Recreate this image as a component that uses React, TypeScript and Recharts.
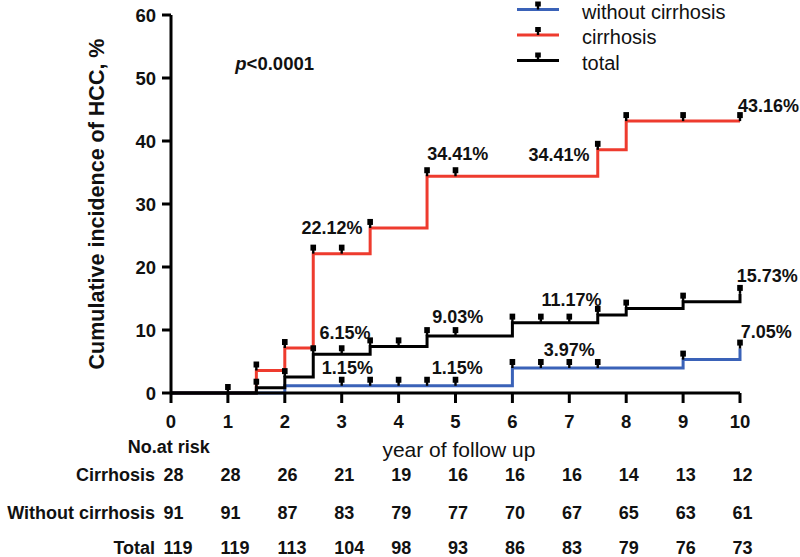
import React from 'react';
import { ComposedChart, Line, Scatter, XAxis, YAxis, ReferenceDot } from 'recharts';

const FONT = '"Liberation Sans", Arial, Helvetica, sans-serif';

// axis ticks
const years = [0, 1, 2, 3, 4, 5, 6, 7, 8, 9, 10];
const yTicks = [0, 10, 20, 30, 40, 50, 60];

// step series (time of step, cumulative incidence %)
const cirrhosisT = [0, 1.5, 2, 2.5, 3.5, 4.5, 7.5, 8, 10];
const cirrhosisV = [0, 3.57, 7.14, 22.12, 26.2, 34.41, 38.6, 43.16, 43.16];
const withoutT = [0, 2, 6, 9, 10];
const withoutV = [0, 1.15, 3.97, 5.3, 7.05];
const totalT = [0, 1.5, 2, 2.5, 3.5, 4.5, 6, 7.5, 8, 9, 10];
const totalV = [0, 0.84, 2.52, 6.15, 7.4, 9.03, 11.17, 12.4, 13.4, 14.5, 15.73];

// censor times
const cirrhosisCensor = [1.5, 2, 2.5, 3, 3.5, 4.5, 5, 7.5, 8, 9, 10];
const withoutCensor = [3, 3.5, 4, 4.5, 5, 6, 6.5, 7, 7.5, 9, 10];
const totalCensor = [1, 1.5, 2, 2.5, 3, 3.5, 4, 4.5, 5, 6, 6.5, 7, 7.5, 8, 9, 10];

// value labels
const labelText = ['22.12%', '6.15%', '1.15%', '34.41%', '34.41%', '43.16%', '9.03%', '11.17%', '15.73%', '3.97%', '7.05%', '1.15%'];
const labelX = [2.83, 3.06, 3.1, 5.04, 6.82, 10.5, 5.04, 7.04, 10.48, 7.0, 10.46, 5.03];
const labelY = [26.2, 9.5, 4.0, 37.9, 37.8, 45.6, 12.1, 14.8, 18.6, 6.8, 9.7, 4.0];

// number at risk
const riskRows = ['Cirrhosis', 'Without cirrhosis', 'Total'];
const riskCirrhosis = [28, 28, 26, 21, 19, 16, 16, 16, 14, 13, 12];
const riskWithout = [91, 91, 87, 83, 79, 77, 70, 67, 65, 63, 61];
const riskTotal = [119, 119, 113, 104, 98, 93, 86, 83, 79, 76, 73];
const riskRowY = [-13.0, -19.05, -24.65];

const RED = '#ee3b2e';
const BLUE = '#3a62b8';
const BLACK = '#000000';

const legendItems = [
  { name: 'without cirrhosis', color: BLUE },
  { name: 'cirrhosis', color: RED },
  { name: 'total', color: BLACK },
];

const toSeries = (t: number[], v: number[]) => t.map((x, i) => ({ x, y: v[i] }));
const stepAt = (t: number[], v: number[], at: number) => {
  let idx = 0;
  for (let i = 0; i < t.length; i++) if (t[i] <= at) idx = i;
  return v[idx];
};
const toCensor = (c: number[], t: number[], v: number[]) => c.map((x) => ({ x, y: stepAt(t, v, x) }));

const CensorMark = (props: any) => {
  const { cx, cy } = props;
  if (cx == null || cy == null) return null;
  return (
    <g>
      <rect x={cx - 1.2} y={cy - 4} width={2.4} height={4} fill="#000" />
      <rect x={cx - 2.8} y={cy - 9} width={5.6} height={6} fill="#000" />
    </g>
  );
};

const makeText = (text: string, opts: { anchor?: string; size?: number; weight?: string | number }) => (props: any) => {
  const { cx, cy } = props;
  return (
    <text
      x={cx}
      y={cy}
      textAnchor={opts.anchor || 'middle'}
      dominantBaseline="central"
      fontFamily={FONT}
      fontSize={opts.size || 18}
      fontWeight={opts.weight ?? 'bold'}
      fill="#111"
    >
      {text}
    </text>
  );
};

const PValue = (props: any) => {
  const { cx, cy } = props;
  return (
    <text x={cx} y={cy} textAnchor="start" dominantBaseline="central" fontFamily={FONT} fontSize={18.5} fontWeight="bold" fill="#111">
      <tspan fontStyle="italic">p</tspan>
      <tspan>{'<0.0001'}</tspan>
    </text>
  );
};

export default function App() {
  const riskData = [riskCirrhosis, riskWithout, riskTotal];
  return (
    <div style={{ position: 'absolute', left: 0, top: 0, width: 800, height: 557, background: '#fff' }}>
      <ComposedChart
        width={800}
        height={557}
        margin={{ top: 15, right: 60, bottom: 134, left: 111 }}
        style={{ fontFamily: FONT }}
      >
        <XAxis
          dataKey="x"
          type="number"
          domain={[0, 10]}
          ticks={years}
          interval={0}
          height={30}
          tickSize={10}
          tickMargin={12}
          axisLine={{ stroke: '#000', strokeWidth: 3 }}
          tickLine={{ stroke: '#000', strokeWidth: 3 }}
          tick={{ fontSize: 18.5, fontWeight: 'bold', fill: '#111', fontFamily: FONT }}
        />
        <YAxis
          dataKey="y"
          type="number"
          domain={[0, 60]}
          ticks={yTicks}
          interval={0}
          width={60}
          tickSize={9}
          tickMargin={6}
          axisLine={{ stroke: '#000', strokeWidth: 3 }}
          tickLine={{ stroke: '#000', strokeWidth: 3 }}
          tick={{ fontSize: 18.5, fontWeight: 'bold', fill: '#111', fontFamily: FONT }}
          label={{
            value: 'Cumulative incidence of HCC, %',
            angle: -90,
            position: 'left',
            offset: 15,
            style: { fontSize: 21.5, fontWeight: 'bold', fill: '#111', fontFamily: FONT, textAnchor: 'middle' },
          }}
        />
        <Line data={toSeries(cirrhosisT, cirrhosisV)} dataKey="y" type="stepAfter" stroke={RED} strokeWidth={3} dot={false} isAnimationActive={false} />
        <Line data={toSeries(withoutT, withoutV)} dataKey="y" type="stepAfter" stroke={BLUE} strokeWidth={3} dot={false} isAnimationActive={false} />
        <Line data={toSeries(totalT, totalV)} dataKey="y" type="stepAfter" stroke={BLACK} strokeWidth={3} dot={false} isAnimationActive={false} />
        <Scatter data={toCensor(cirrhosisCensor, cirrhosisT, cirrhosisV)} dataKey="y" shape={<CensorMark />} isAnimationActive={false} />
        <Scatter data={toCensor(withoutCensor, withoutT, withoutV)} dataKey="y" shape={<CensorMark />} isAnimationActive={false} />
        <Scatter data={toCensor(totalCensor, totalT, totalV)} dataKey="y" shape={<CensorMark />} isAnimationActive={false} />

        {labelText.map((t, i) => (
          <ReferenceDot key={'lab' + i} x={labelX[i]} y={labelY[i]} r={0} ifOverflow="visible" shape={makeText(t, { size: 18 })} />
        ))}
        <ReferenceDot x={1.13} y={52.4} r={0} ifOverflow="visible" shape={PValue} />

        <ReferenceDot x={-0.04} y={-8.5} r={0} ifOverflow="visible" shape={makeText('No.at risk', { size: 18 })} />
        <ReferenceDot x={5.06} y={-9.0} r={0} ifOverflow="visible" shape={makeText('year of follow up', { size: 21, weight: 'normal' })} />

        {riskRows.map((name, r) => (
          <ReferenceDot key={'row' + r} x={-0.28} y={riskRowY[r]} r={0} ifOverflow="visible" shape={makeText(name, { size: 18, anchor: 'end' })} />
        ))}
        {riskData.map((row, r) =>
          row.map((n, i) => (
            <ReferenceDot
              key={'risk' + r + '-' + i}
              x={years[i] - 0.13}
              y={riskRowY[r]}
              r={0}
              ifOverflow="visible"
              shape={makeText(String(n), { size: 18, anchor: 'start' })}
            />
          ))
        )}
      </ComposedChart>
      <svg width={800} height={80} style={{ position: 'absolute', left: 0, top: 0, pointerEvents: 'none' }}>
        {legendItems.map((it, i) => {
          const y = 9.5 + i * 25.5;
          return (
            <g key={it.name}>
              <line x1={517} x2={559} y1={y} y2={y} stroke={it.color} strokeWidth={3} />
              <rect x={536.8} y={y - 4} width={2.4} height={4} fill="#000" />
              <rect x={535.2} y={y - 8} width={5.6} height={5} fill="#000" />
              <text x={582} y={y + 9} fontFamily={FONT} fontSize={20} fill="#111">
                {it.name}
              </text>
            </g>
          );
        })}
      </svg>
    </div>
  );
}
